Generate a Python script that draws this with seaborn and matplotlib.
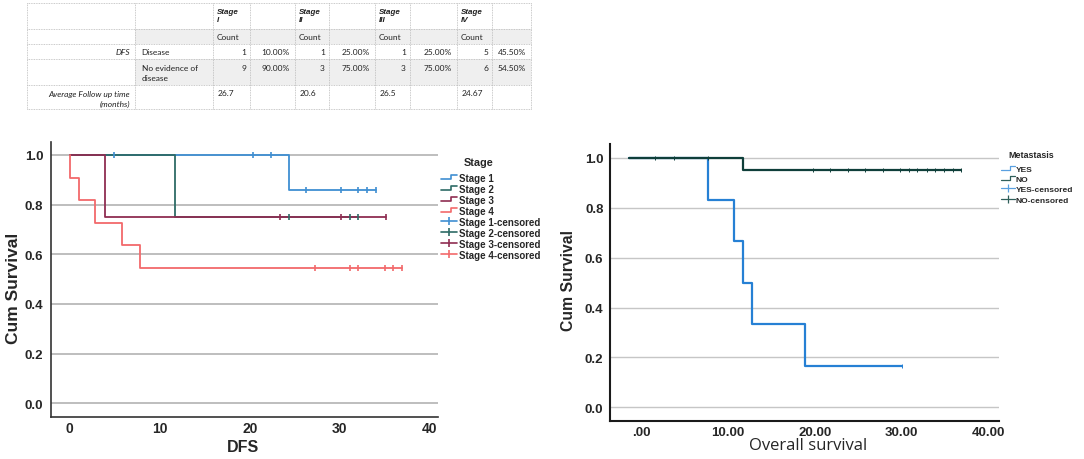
import numpy as np
import pandas as pd
import matplotlib
matplotlib.use('Agg')
import matplotlib.pyplot as plt
import seaborn as sns
from matplotlib.legend_handler import HandlerBase
from matplotlib.lines import Line2D
from matplotlib.patches import Rectangle

# table values
stage_heads = ['I', 'II', 'III', 'IV']
disease_n = ['1', '1', '1', '5']
disease_pct = ['10.00%', '25.00%', '25.00%', '45.50%']
ned_n = ['9', '3', '3', '6']
ned_pct = ['90.00%', '75.00%', '75.00%', '54.50%']
avg_follow = ['26.7', '20.6', '26.5', '24.67']

# DFS by stage (left plot): step times / survival and censor times
stage_labels = ['Stage 1', 'Stage 2', 'Stage 3', 'Stage 4']
stage_colors = ['#3f8fd2', '#2e6b66', '#8f2d52', '#f2696b']
st1_time = [0, 24.3, 34.0]
st1_surv = [1.0, 0.857, 0.857]
st1_cens = [4.9, 20.4, 22.3, 26.2, 30.1, 32.0, 33.0, 34.0]
st2_time = [0, 11.7, 32.0]
st2_surv = [1.0, 0.75, 0.75]
st2_cens = [24.3, 31.1, 32.0]
st3_time = [0, 3.9, 35.1]
st3_surv = [1.0, 0.75, 0.75]
st3_cens = [23.3, 30.1, 35.1]
st4_time = [0, 0, 1.0, 2.85, 5.85, 7.75, 36.9]
st4_surv = [1.0, 0.909, 0.818, 0.727, 0.636, 0.545, 0.545]
st4_cens = [27.2, 31.1, 32.0, 35.0, 35.9, 36.9]

# overall survival by metastasis (right plot)
meta_labels = ['YES', 'NO']
meta_colors = ['#2680d4', '#0f3f3a']
yes_time = [-1.4, 7.7, 10.7, 11.7, 12.8, 18.85, 30.0]
yes_surv = [1.0, 0.833, 0.667, 0.5, 0.333, 0.167, 0.167]
yes_cens = [30.0]
no_time = [-1.4, 11.7, 36.9]
no_surv = [1.0, 0.953, 0.953]
no_cens = [1.6, 3.7, 7.7, 19.8, 21.7, 23.8, 25.8, 27.8, 29.8, 30.8, 31.8,
           32.9, 33.9, 34.9, 35.9, 36.9]

left_xticks = [0, 10, 20, 30, 40]
left_xticklabels = ['0', '10', '20', '30', '40']
right_xticks = [0, 10, 20, 30, 40]
right_xticklabels = ['.00', '10.00', '20.00', '30.00', '40.00']
yticks = [0.0, 0.2, 0.4, 0.6, 0.8, 1.0]
yticklabels = ['0.0', '0.2', '0.4', '0.6', '0.8', '1.0']


def curve_frames(labels, times, survs, cens):
    steps, marks = [], []
    for lab, t, s, c in zip(labels, times, survs, cens):
        steps.append(pd.DataFrame({'time': t, 'surv': s, 'group': lab}))
        idx = np.searchsorted(t, c, side='right') - 1
        marks.append(pd.DataFrame({'time': c, 'surv': np.asarray(s)[idx], 'group': lab}))
    return pd.concat(steps, ignore_index=True), pd.concat(marks, ignore_index=True)


class StepKey(Line2D):
    pass


class StepHandler(HandlerBase):
    def create_artists(self, legend, orig_handle, xdescent, ydescent,
                       width, height, fontsize, trans):
        x0, y0 = -xdescent, -ydescent
        xs = [x0, x0 + 0.62 * width, x0 + 0.62 * width, x0 + width]
        ys = [y0 + 0.2 * height, y0 + 0.2 * height, y0 + 0.8 * height, y0 + 0.8 * height]
        line = Line2D(xs, ys, color=orig_handle.get_color(), lw=orig_handle.get_linewidth())
        line.set_transform(trans)
        return [line]


sns.set_style('white')
plt.rcParams['font.family'] = ['Liberation Sans', 'DejaVu Sans']

fig = plt.figure(figsize=(10.84, 4.6), dpi=100)

# ---------------- table (pixel coordinates) ----------------
tab = fig.add_axes([0, 0, 1, 1])
tab.set_xlim(0, 1084)
tab.set_ylim(460, 0)
tab.axis('off')
col_x = [27, 135, 213, 250, 295, 329, 375, 410, 457, 492, 531]
row_y = [4, 30, 45, 60, 86, 110]
for r in (1, 3):
    tab.add_patch(Rectangle((col_x[1], row_y[r]), col_x[-1] - col_x[1],
                            row_y[r + 1] - row_y[r], color='#efefef', lw=0))
for y in row_y:
    tab.plot([col_x[0], col_x[-1]], [y, y], color='#b8b8b8', lw=0.6, ls=(0, (1, 1)))
for x in col_x:
    tab.plot([x, x], [row_y[0], row_y[-1]], color='#b8b8b8', lw=0.6, ls=(0, (1, 1)))

tf = dict(family=['Lato', 'DejaVu Sans'], fontsize=6, color='#222222', va='center')
hf = dict(family=['Liberation Sans', 'DejaVu Sans'], fontsize=5.8, color='#222222',
          va='center', weight='bold', style='italic')
for i in range(4):
    cx = col_x[2 + 2 * i]
    ce = col_x[3 + 2 * i]
    pe = col_x[4 + 2 * i]
    tab.text(cx + 4, 12.3, 'Stage', **hf)
    tab.text(cx + 4, 20.7, stage_heads[i], **hf)
    tab.text(cx + 4, 37.5, 'Count', **tf)
    tab.text(ce - 4, 52.5, disease_n[i], ha='right', **tf)
    tab.text(pe - 5, 52.5, disease_pct[i], ha='right', **tf)
    tab.text(ce - 4, 68.3, ned_n[i], ha='right', **tf)
    tab.text(pe - 5, 68.3, ned_pct[i], ha='right', **tf)
    tab.text(cx + 5, 94, avg_follow[i], **tf)
tab.text(130, 52.5, 'DFS', ha='right', style='italic', **tf)
tab.text(141.5, 52.5, 'Disease', **tf)
tab.text(141.5, 68.3, 'No evidence of', **tf)
tab.text(141.5, 78.3, 'disease', **tf)
tab.text(130, 94, 'Average Follow up time', ha='right', style='italic', **tf)
tab.text(130, 104, '(months)', ha='right', style='italic', **tf)

# ---------------- left: DFS by stage ----------------
ax1 = fig.add_axes([0.0470, 0.0907, 0.357, 0.599])
steps1, marks1 = curve_frames(stage_labels,
                              [st1_time, st2_time, st3_time, st4_time],
                              [st1_surv, st2_surv, st3_surv, st4_surv],
                              [st1_cens, st2_cens, st3_cens, st4_cens])
pal1 = dict(zip(stage_labels, stage_colors))
sns.lineplot(data=steps1, x='time', y='surv', hue='group', palette=pal1,
             estimator=None, sort=False, drawstyle='steps-post', lw=1.3,
             legend=False, ax=ax1, zorder=3)
sns.scatterplot(data=marks1, x='time', y='surv', hue='group', palette=pal1,
                marker='|', s=18, linewidth=1.2, legend=False, ax=ax1, zorder=4)
ax1.set_xlim(-2.1, 40.9)
ax1.set_ylim(-0.056, 1.053)
ax1.set_xticks(left_xticks, left_xticklabels)
ax1.set_yticks(yticks, yticklabels)
ax1.grid(axis='y', color='#b3b3b3', lw=1.2)
ax1.tick_params(axis='y', length=0, pad=5.5, labelsize=9.5)
ax1.tick_params(axis='x', length=0, pad=2.5, labelsize=10)
for lab in ax1.get_xticklabels() + ax1.get_yticklabels():
    lab.set_fontweight('bold')
sns.despine(ax=ax1)
for sp in ('left', 'bottom'):
    ax1.spines[sp].set_color('#333333')
    ax1.spines[sp].set_linewidth(1.2)
ax1.set_xlabel('DFS', fontsize=11.5, fontweight='bold')
ax1.set_ylabel('Cum Survival', fontsize=12.5, fontweight='bold')
ax1.xaxis.set_label_coords(0.497, -0.08)
ax1.yaxis.set_label_coords(-0.078, 0.47)

h1 = [StepKey([], [], color=c, lw=1.2) for c in stage_colors]
h1 += [Line2D([], [], color=c, lw=1.2, marker='|', markersize=6, markeredgewidth=1.2)
       for c in stage_colors]
l1 = stage_labels + [f'{s}-censored' for s in stage_labels]
fig.legend(h1, l1, handler_map={StepKey: StepHandler()}, loc='upper left',
           bbox_to_anchor=(440.7 / 1084, (460 - 173.8) / 460), frameon=False,
           prop=dict(size=7, weight='bold'), handlelength=1.7, handletextpad=0.2,
           labelspacing=0.1, borderpad=0, borderaxespad=0)
fig.text(463.3 / 1084, (460 - 163.3) / 460, 'Stage', fontsize=7.8,
         fontweight='bold', va='center', ha='left')

# ---------------- right: overall survival by metastasis ----------------
ax2 = fig.add_axes([0.5627, 0.0833, 0.3591, 0.6015])
steps2, marks2 = curve_frames(meta_labels, [yes_time, no_time],
                              [yes_surv, no_surv], [yes_cens, no_cens])
pal2 = dict(zip(meta_labels, meta_colors))
sns.lineplot(data=steps2, x='time', y='surv', hue='group', palette=pal2,
             estimator=None, sort=False, drawstyle='steps-post', lw=1.6,
             legend=False, ax=ax2, zorder=3)
sns.scatterplot(data=marks2, x='time', y='surv', hue='group', palette=pal2,
                marker='|', s=9, linewidth=0.7, legend=False, ax=ax2, zorder=4)
ax2.set_xlim(-3.64, 41.26)
ax2.set_ylim(-0.054, 1.056)
ax2.set_xticks(right_xticks, right_xticklabels)
ax2.set_yticks(yticks, yticklabels)
ax2.grid(axis='y', color='#c6c6c6', lw=1.0)
ax2.tick_params(axis='y', length=0, pad=4.7, labelsize=9.5)
ax2.tick_params(axis='x', length=0, pad=3.5, labelsize=9.5)
for lab in ax2.get_xticklabels() + ax2.get_yticklabels():
    lab.set_fontweight('bold')
sns.despine(ax=ax2)
for sp in ('left', 'bottom'):
    ax2.spines[sp].set_color('#1a1a1a')
    ax2.spines[sp].set_linewidth(1.5)
ax2.set_xlabel('Overall survival', fontsize=12, family=['Open Sans', 'DejaVu Sans'])
ax2.set_ylabel('Cum Survival', fontsize=11.3, fontweight='bold')
ax2.xaxis.set_label_coords(0.51, -0.06)
ax2.yaxis.set_label_coords(-0.086, 0.512)

h2 = [StepKey([], [], color=c, lw=0.9) for c in ['#5aa0e0', '#2f5f5a']]
h2 += [Line2D([], [], color=c, lw=0.9, marker='|', markersize=6, markeredgewidth=0.9)
       for c in ['#5aa0e0', '#2f5f5a']]
l2 = meta_labels + [f'{s}-censored' for s in meta_labels]
fig.legend(h2, l2, handler_map={StepKey: StepHandler()}, loc='upper left',
           bbox_to_anchor=(1000.7 / 1084, (460 - 165.9) / 460), frameon=False,
           prop=dict(size=6, weight='bold'), handlelength=1.72, handletextpad=0.1,
           labelspacing=0.3, borderpad=0, borderaxespad=0)
fig.text(1008.3 / 1084, (460 - 155.7) / 460, 'Metastasis', fontsize=6.4,
         fontweight='bold', va='center', ha='left')

fig.savefig('out.png', dpi=100)
